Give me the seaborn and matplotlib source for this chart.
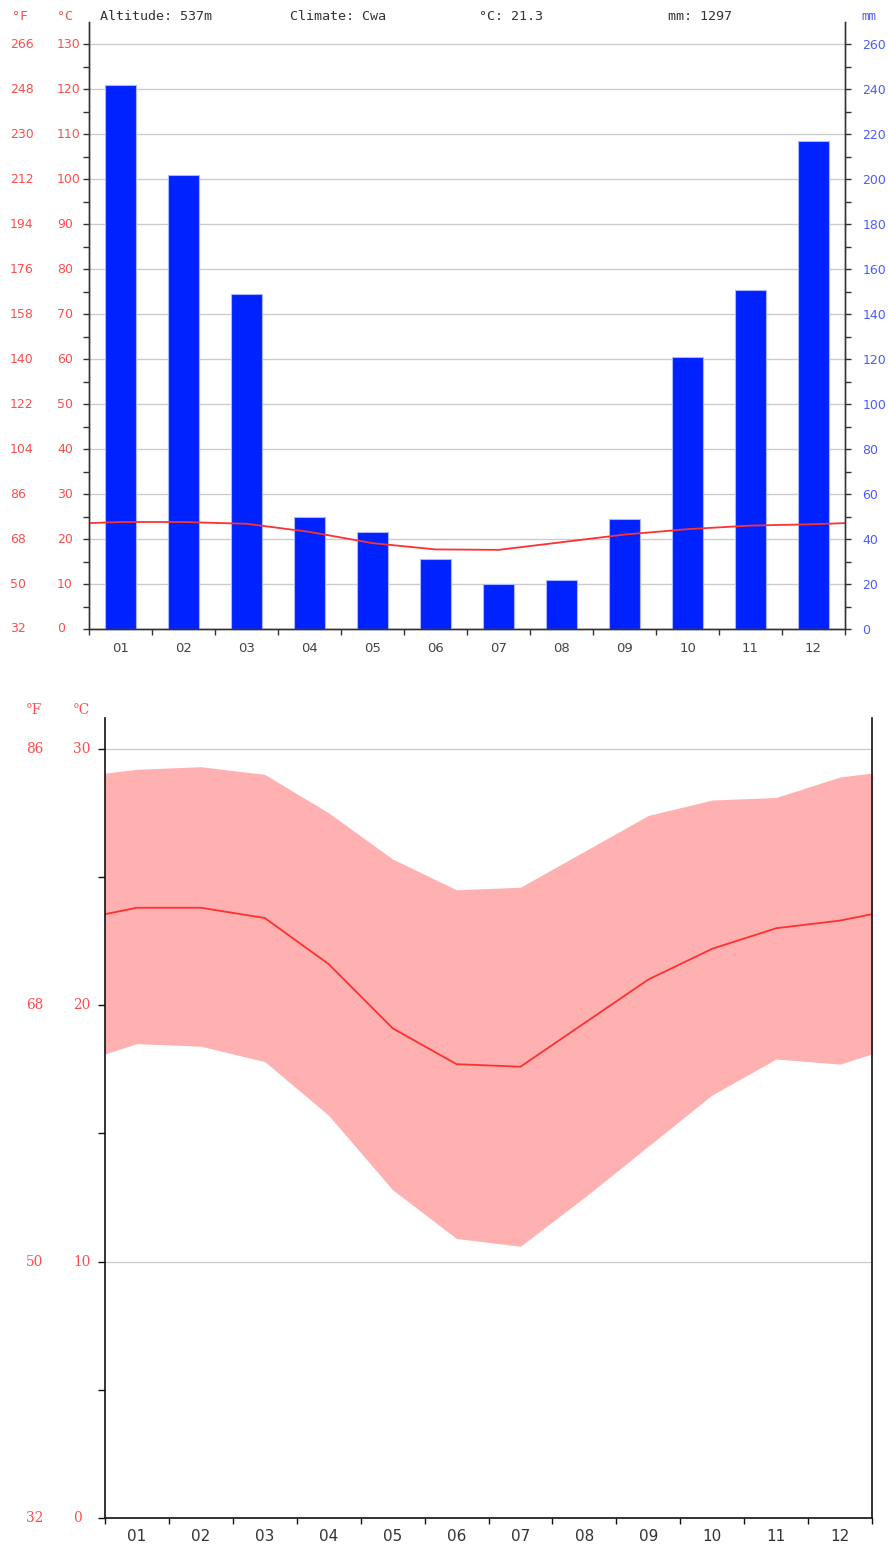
import seaborn as sns
import matplotlib.pyplot as plt
import matplotlib.transforms as mtransforms
import numpy as np
import pandas as pd

months = ['01', '02', '03', '04', '05', '06', '07', '08', '09', '10', '11', '12']
precip_mm = [242, 202, 149, 50, 43, 31, 20, 22, 49, 121, 151, 217]
temp_mean = [23.8, 23.8, 23.4, 21.6, 19.1, 17.7, 17.6, 19.3, 21.0, 22.2, 23.0, 23.3]
temp_max = [29.2, 29.3, 29.0, 27.5, 25.7, 24.5, 24.6, 26.0, 27.4, 28.0, 28.1, 28.9]
temp_min = [18.5, 18.4, 17.8, 15.7, 12.8, 10.9, 10.6, 12.5, 14.5, 16.5, 17.9, 17.7]
altitude = '537m'
climate = 'Cwa'

c_ticks = list(range(0, 140, 10))
mm_ticks = list(range(0, 280, 20))
c_ticks_range = [0, 10, 20, 30]

RED = '#ff4d4d'
BLUE = '#4a5cff'
GRAY = '#444444'
GRID = '#cccccc'

sns.set_theme(style='white')
plt.rcParams['font.family'] = ['DejaVu Sans']

fig = plt.figure(figsize=(8.88, 15.44), dpi=100)
W, H = 888, 1544


def c_to_f(c):
    return int(round(c * 9 / 5 + 32))


# ---------- top: climate chart ----------
ax_p = fig.add_axes([89 / W, 1 - 629 / H, (845 - 89) / W, (629 - 22) / H])
df_p = pd.DataFrame({'month': months, 'mm': precip_mm})
sns.barplot(data=df_p, x='month', y='mm', ax=ax_p, color='#0022ff',
            saturation=1, width=0.5, edgecolor='#aab6ff', linewidth=0.8)

ax_t = ax_p.twinx()
xs_wrap = np.arange(-1, 13)
mean_wrap = [temp_mean[-1]] + temp_mean + [temp_mean[0]]
sns.lineplot(x=xs_wrap, y=mean_wrap, ax=ax_t, color='#ff3030', lw=1.3)

# precipitation axis on the right
ax_p.set_ylim(0, 270)
ax_p.set_xlim(-0.5, 11.5)
ax_p.yaxis.tick_right()
ax_p.yaxis.set_label_position('right')
ax_p.set_yticks(mm_ticks)
ax_p.set_yticks(range(10, 270, 20), minor=True)
ax_p.set_yticklabels([str(v) for v in mm_ticks], color=BLUE, fontsize=9)
ax_p.grid(axis='y', which='major', color=GRID, lw=1)
ax_p.set_axisbelow(True)
ax_p.set_xticks(range(12))
ax_p.set_xticklabels(months, color=GRAY, fontsize=9.5)
ax_p.set_xticks(np.arange(-0.5, 12, 1), minor=True)
ax_p.tick_params(axis='x', which='major', length=0, pad=9)
ax_p.tick_params(axis='x', which='minor', length=4, color='#333333', width=1, bottom=True)
ax_p.tick_params(axis='y', which='major', length=4, color='#333333', width=1,
                 right=True, left=False, labelright=True, labelleft=False, pad=8.5)
ax_p.tick_params(axis='y', which='minor', length=4, color='#333333', width=1,
                 right=True, left=False)
ax_p.set_xlabel('')
ax_p.set_ylabel('')

# temperature axis on the left
ax_t.set_xlim(-0.5, 11.5)
ax_t.set_ylim(0, 135)
ax_t.yaxis.tick_left()
ax_t.set_yticks(c_ticks)
ax_t.set_yticks(range(5, 135, 10), minor=True)
ax_t.set_yticklabels([])
ax_t.tick_params(axis='y', which='both', length=4, color='#333333', width=1,
                 left=True, right=False, labelleft=False, labelright=False)
ax_t.set_xlabel('')
ax_t.set_ylabel('')

for a in (ax_p, ax_t):
    a.spines['top'].set_visible(False)
    for s in ('left', 'right', 'bottom'):
        a.spines[s].set_color('#333333')
        a.spines[s].set_linewidth(1)

tr = mtransforms.blended_transform_factory(fig.transFigure, ax_t.transData)
for c in c_ticks:
    ax_t.text(10 / W, c, str(c_to_f(c)), transform=tr, color=RED, fontsize=9,
              ha='left', va='center')
    ax_t.text(57 / W, c, str(c), transform=tr, color=RED, fontsize=9,
              ha='left', va='center')

mono = 'DejaVu Sans Mono'
hy = 1 - 16 / H
fig.text(12 / W, hy, '°F', color=RED, fontsize=9.6, family=mono, va='center')
fig.text(57 / W, hy, '°C', color=RED, fontsize=9.6, family=mono, va='center')
fig.text(100 / W, hy, f'Altitude: {altitude}', color='#333333', fontsize=9.6, family=mono, va='center')
fig.text(290 / W, hy, f'Climate: {climate}', color='#333333', fontsize=9.6, family=mono, va='center')
fig.text(479 / W, hy, f'°C: {np.mean(temp_mean):.1f}', color='#333333', fontsize=9.6, family=mono, va='center')
fig.text(668 / W, hy, f'mm: {sum(precip_mm)}', color='#333333', fontsize=9.6, family=mono, va='center')
fig.text(861 / W, hy, 'mm', color=BLUE, fontsize=9, family=mono, va='center')

# ---------- bottom: temperature range ----------
ax_r = fig.add_axes([105 / W, 1 - 1518 / H, (872 - 105) / W, (1518 - 718) / H])
max_wrap = [temp_max[-1]] + temp_max + [temp_max[0]]
min_wrap = [temp_min[-1]] + temp_min + [temp_min[0]]
ax_r.fill_between(xs_wrap, min_wrap, max_wrap, color='#ffb0b0', lw=0)
sns.lineplot(x=xs_wrap, y=mean_wrap, ax=ax_r, color='#ff3030', lw=1.3)
ax_r.set_xlim(-0.5, 11.5)
ax_r.set_ylim(0, 31.2)
ax_r.set_yticks(c_ticks_range)
ax_r.set_yticks([5, 15, 25], minor=True)
ax_r.set_yticklabels([])
ax_r.grid(axis='y', which='major', color=GRID, lw=1)
ax_r.set_axisbelow(True)
ax_r.set_xticks(range(12))
ax_r.set_xticklabels(months, color='#333333', fontsize=11,
                     family=['Liberation Sans Narrow', 'DejaVu Sans'])
ax_r.set_xticks(np.arange(-0.5, 12, 1), minor=True)
ax_r.tick_params(axis='x', which='major', length=0, pad=8)
ax_r.tick_params(axis='x', which='minor', length=4, color='#111111', width=1, bottom=True)
ax_r.tick_params(axis='y', which='both', length=5, color='#111111', width=1, left=True)
ax_r.set_xlabel('')
ax_r.set_ylabel('')
ax_r.spines['top'].set_visible(False)
for s in ('left', 'right', 'bottom'):
    ax_r.spines[s].set_color('#111111')
    ax_r.spines[s].set_linewidth(1.2)

serif = ['DejaVu Serif']
tr2 = mtransforms.blended_transform_factory(fig.transFigure, ax_r.transData)
for c in c_ticks_range:
    ax_r.text(26 / W, c, str(c_to_f(c)), transform=tr2, color=RED, fontsize=11,
              family=serif, fontstretch='condensed', ha='left', va='center')
    ax_r.text(73 / W, c, str(c), transform=tr2, color=RED, fontsize=11,
              family=serif, fontstretch='condensed', ha='left', va='center')
hy2 = 1 - 710 / H
fig.text(26 / W, hy2, '°F', color=RED, fontsize=11, family=serif, fontstretch='condensed', va='center')
fig.text(73 / W, hy2, '°C', color=RED, fontsize=11, family=serif, fontstretch='condensed', va='center')

fig.savefig('out.png', dpi=100)
